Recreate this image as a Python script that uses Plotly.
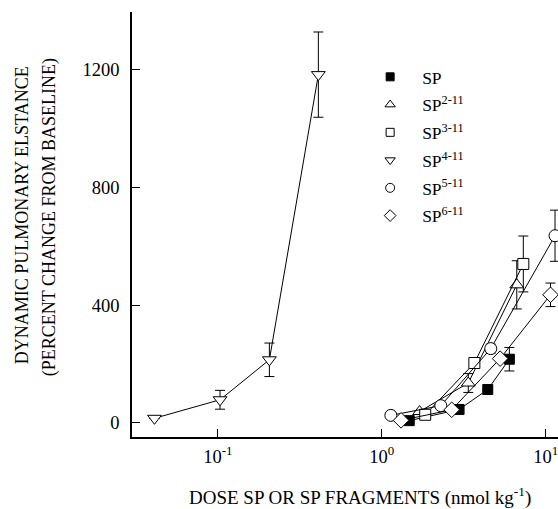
import numpy as np
import plotly.graph_objects as go

# Dose (nmol/kg) and response (% change from baseline), mean and SEM
sp_dose = [1.47, 2.96, 4.43, 6.0]
sp_val = [7, 45, 113, 216]
sp_err = [0, 0, 0, 40]

sp2_dose = [1.70, 3.37, 6.66]
sp2_val = [38, 135, 469]
sp2_err = [0, 32, 82]

sp3_dose = [1.84, 3.67, 7.3]
sp3_val = [27, 203, 540]
sp3_err = [0, 10, 95]

sp4_dose = [0.041, 0.103, 0.206, 0.41]
sp4_val = [15, 78, 214, 1184]
sp4_err = [0, 32, 57, 145]

sp5_dose = [1.135, 2.29, 4.62, 11.4]
sp5_val = [25, 58, 252, 636]
sp5_err = [0, 0, 15, 87]

sp6_dose = [1.31, 2.67, 5.27, 10.7]
sp6_val = [8, 44, 218, 435]
sp6_err = [0, 0, 0, 40]

series_names = ["SP", "SP<sup>2-11</sup>", "SP<sup>3-11</sup>",
                "SP<sup>4-11</sup>", "SP<sup>5-11</sup>", "SP<sup>6-11</sup>"]

x_tick_vals = [0.1, 1, 10]
x_tick_text = ["10<sup>-1</sup>", "10<sup>0</sup>", "10<sup>1</sup>"]
y_tick_vals = [0, 400, 800, 1200]

FONT = "Times New Roman, Liberation Serif, serif"

series = [
    (sp_dose, sp_val, sp_err, "square", "black", 10),
    (sp2_dose, sp2_val, sp2_err, "triangle-up", "white", 12),
    (sp3_dose, sp3_val, sp3_err, "square", "white", 11),
    (sp4_dose, sp4_val, sp4_err, "triangle-down", "white", 12),
    (sp5_dose, sp5_val, sp5_err, "circle", "white", 12),
    (sp6_dose, sp6_val, sp6_err, "diamond", "white", 12),
]
legend_sizes = [8, 9, 8, 9, 9, 9]

fig = go.Figure()

for i, (x, y, e, sym, fill, size) in enumerate(series):
    fig.add_trace(go.Scatter(
        x=x, y=y, mode="lines+markers",
        line=dict(color="black", width=1),
        marker=dict(symbol=sym, size=size, color=fill,
                    line=dict(color="black", width=1)),
        error_y=dict(type="data", array=e, visible=True,
                     color="black", thickness=1, width=5),
        showlegend=False, legendgroup=f"g{i}",
    ))

# legend keys (markers only)
for i, (x, y, e, sym, fill, size) in enumerate(series):
    fig.add_trace(go.Scatter(
        x=[None], y=[None], mode="markers", name=series_names[i],
        marker=dict(symbol=sym, size=legend_sizes[i], color=fill,
                    line=dict(color="black", width=1)),
        showlegend=True, legendgroup=f"g{i}",
    ))

L, R, T, B = 131.7, 0, 12, 71.7
W, H = 558, 509
pw, ph = W - L - R, H - T - B

def px_to_paper(px, py):
    return (px - L) / pw, (H - B - py) / ph

annotations = []
ax, ay = px_to_paper(359.5, 497)
annotations.append(dict(text="DOSE SP OR SP FRAGMENTS (nmol kg<sup>-1</sup>)",
                        x=ax, y=ay, xref="paper", yref="paper",
                        showarrow=False, xanchor="center", yanchor="middle",
                        font=dict(family=FONT, size=19, color="black")))
ax, ay = px_to_paper(21, 215)
annotations.append(dict(text="DYNAMIC PULMONARY ELSTANCE",
                        x=ax, y=ay, xref="paper", yref="paper", textangle=-90,
                        showarrow=False, xanchor="center", yanchor="middle",
                        font=dict(family=FONT, size=18, color="black")))
ax, ay = px_to_paper(49, 217)
annotations.append(dict(text="(PERCENT CHANGE FROM BASELINE)",
                        x=ax, y=ay, xref="paper", yref="paper", textangle=-90,
                        showarrow=False, xanchor="center", yanchor="middle",
                        font=dict(family=FONT, size=18, color="black")))

lx, ly = px_to_paper(358, 59)

fig.update_layout(
    width=W, height=H,
    margin=dict(l=L, r=R, t=T, b=B, pad=0),
    paper_bgcolor="white", plot_bgcolor="white",
    font=dict(family=FONT, size=18, color="black"),
    annotations=annotations,
    legend=dict(x=lx, y=ly, xanchor="left", yanchor="top",
                bgcolor="rgba(0,0,0,0)", borderwidth=0,
                font=dict(family=FONT, size=17.5, color="black"),
                tracegroupgap=2, itemwidth=54, traceorder="grouped"),
)

fig.update_xaxes(
    type="log", range=[-1.5244, 1.075],
    tickvals=x_tick_vals, ticktext=x_tick_text,
    ticks="inside", ticklen=8, tickwidth=1, tickcolor="black",
    showline=True, linecolor="black", linewidth=1.5,
    showgrid=False, zeroline=False, ticklabelstandoff=2,
    ticklabeloverflow="allow",
    tickfont=dict(family=FONT, size=18.5, color="black"),
)
fig.update_yaxes(
    range=[-48.6, 1397],
    tickvals=y_tick_vals,
    ticks="inside", ticklen=8, tickwidth=1, tickcolor="black",
    showline=True, linecolor="black", linewidth=1.5,
    showgrid=False, zeroline=False, ticklabelstandoff=7,
    tickfont=dict(family=FONT, size=18.5, color="black"),
)

fig.write_html("out.html")
